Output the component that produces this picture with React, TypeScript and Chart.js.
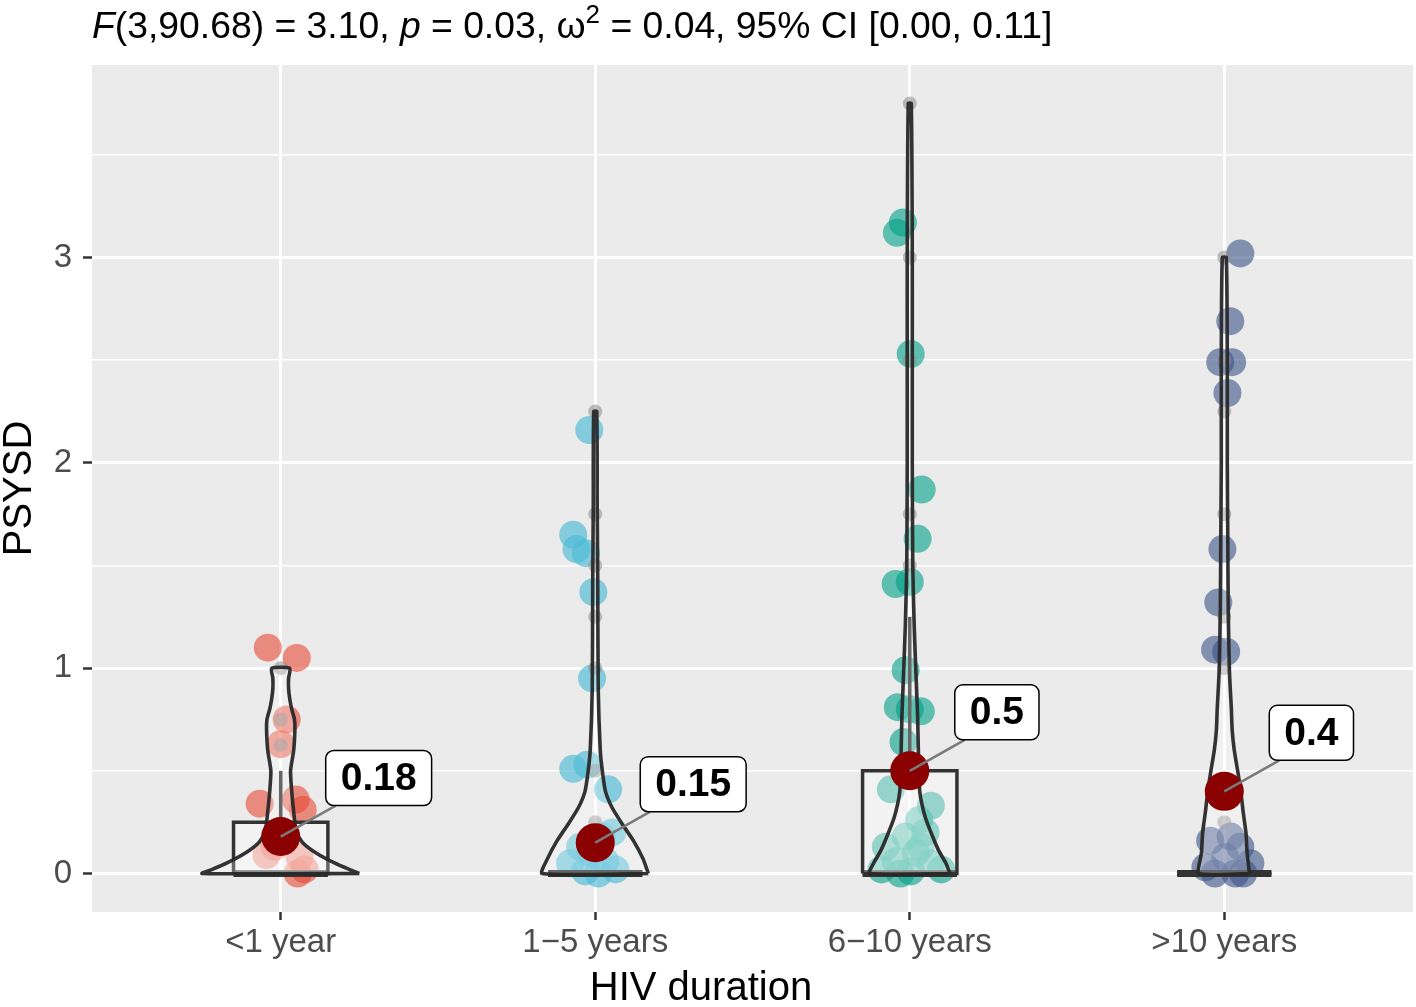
import React, { useEffect, useRef } from 'react';
import { Chart, registerables } from 'chart.js';

Chart.register(...registerables);

// ---------------- DATA ----------------
const categories = ['<1 year', '1\u22125 years', '6\u221210 years', '>10 years'];
const xAxisTitle = 'HIV duration';
const yAxisTitle = 'PSYSD';
const yTickValues = [0, 0.5, 1, 1.5, 2, 2.5, 3, 3.5];
const yTickLabels = ['0', '', '1', '', '2', '', '3', ''];

// group means (shown as dark red dots + labels)
const means = [0.18, 0.15, 0.5, 0.4];
const meanLabels = ['0.18', '0.15', '0.5', '0.4'];

// box-plot statistics
const q1 = [0, 0, 0, 0];
const medians = [0, 0, 0, 0];
const q3 = [0.25, 0, 0.5, 0];
const whiskerHigh = [0.5, 0, 1.25, 0];

// box-plot outliers
const outliers1 = [1.0, 0.75, 0.625];
const outliers2 = [2.25, 1.75, 1.5, 1.25, 1.0, 0.5, 0.25];
const outliers3 = [3.75, 3.0, 2.5, 1.75, 1.5];
const outliers4 = [3.0, 2.5, 2.25, 1.75, 1.25, 1.0, 0.25];

const values1 = [1.10, 1.05, 0.75, 0.63, 0.34, 0.36, 0.31, 0.09, 0.08, 0.02, 0.0, 0.2, 0.13];
const jitter1 = [-0.041, 0.051, 0.019, 0.0, -0.067, 0.048, 0.07, -0.045, 0.06, 0.076, 0.054, 0.0, -0.02];
const values2 = [2.16, 1.65, 1.58, 1.56, 1.37, 0.95, 0.51, 0.53, 0.41, 0.13, 0.2, 0.06, 0.01, 0.0, 0.05, 0.02, 0.1, 0.18];
const jitter2 = [-0.019, -0.07, -0.06, -0.03, -0.006, -0.01, -0.07, -0.025, 0.041, -0.048, 0.054, 0.032, -0.032, 0.01, -0.08, 0.064, -0.016, 0.02];
const values3 = [3.12, 3.17, 2.53, 1.87, 1.63, 1.41, 1.42, 0.99, 0.81, 0.79, 0.8, 0.64, 0.41, 0.33, 0.26, 0.18, 0.13, 0.13, 0.06, 0.05, 0.01, 0.02, 0.02, 0.0, 0.1, 0.2];
const jitter3 = [-0.041, -0.022, 0.003, 0.038, 0.025, -0.045, 0.0, -0.013, -0.038, 0.035, 0.0, -0.02, -0.06, 0.067, 0.03, -0.013, -0.076, 0.035, -0.045, 0.067, 0.003, -0.09, 0.1, -0.03, 0.02, 0.05];
const values4 = [3.02, 2.69, 2.49, 2.49, 2.34, 1.58, 1.32, 1.09, 1.08, 0.16, 0.13, 0.08, 0.05, 0.03, 0.0, 0.0, 0.0, 0.18];
const jitter4 = [0.051, 0.019, -0.013, 0.025, 0.01, -0.006, -0.019, -0.029, 0.006, -0.045, 0.051, 0.003, 0.083, -0.06, 0.035, 0.06, -0.03, 0.02];

// violin density profiles (relative width, 1 = widest violin)
const violinY1 = [0, 0.02, 0.05, 0.1, 0.15, 0.2, 0.3, 0.4, 0.5, 0.6, 0.7, 0.75, 0.8, 0.85, 0.9, 0.95, 1.0];
const violinD1 = [1.0, 0.87, 0.69, 0.45, 0.28, 0.2, 0.165, 0.14, 0.125, 0.165, 0.18, 0.175, 0.14, 0.115, 0.1, 0.1, 0.115];
const violinY2 = [0, 0.07, 0.16, 0.24, 0.32, 0.4, 0.5, 0.6, 0.9, 1.4, 1.8, 2.25];
const violinD2 = [0.675, 0.61, 0.485, 0.345, 0.215, 0.13, 0.09, 0.064, 0.038, 0.032, 0.025, 0.019];
const violinY3 = [0, 0.05, 0.11, 0.19, 0.27, 0.34, 0.4, 0.5, 0.76, 1.0, 1.2, 1.5, 2.0, 2.5, 3.0, 3.75];
const violinD3 = [0.51, 0.46, 0.37, 0.28, 0.2, 0.153, 0.127, 0.115, 0.1, 0.076, 0.057, 0.038, 0.032, 0.032, 0.032, 0.019];
const violinY4 = [0, 0.1, 0.2, 0.3, 0.4, 0.5, 0.6, 0.7, 0.8, 0.9, 1.0, 1.3, 1.6, 2.0, 2.5, 3.0];
const violinD4 = [0.32, 0.29, 0.275, 0.24, 0.21, 0.17, 0.127, 0.1, 0.09, 0.076, 0.064, 0.05, 0.045, 0.038, 0.038, 0.025];

// ---------------- STYLE ----------------
const FONT = '"Liberation Sans", Arial, Helvetica, sans-serif';
const groupColors = ['rgba(230,75,53,0.6)', 'rgba(77,187,213,0.65)', 'rgba(0,160,135,0.6)', 'rgba(60,84,136,0.6)'];
const LINE = '#333333';
const VIOLIN_HALF = 0.25;
const BOX_HALF = 0.15;

const valuesAll = [values1, values2, values3, values4];
const jitterAll = [jitter1, jitter2, jitter3, jitter4];
const outliersAll = [outliers1, outliers2, outliers3, outliers4];
const violinYAll = [violinY1, violinY2, violinY3, violinY4];
const violinDAll = [violinD1, violinD2, violinD3, violinD4];

function buildDatasets(): any[] {
  const ds: any[] = [];
  valuesAll.forEach((vals, g) => {
    ds.push({
      type: 'scatter',
      data: vals.map((v, k) => ({ x: g + jitterAll[g][k], y: v })),
      pointRadius: 14,
      pointBackgroundColor: groupColors[g],
      pointBorderWidth: 0,
      order: 6,
    });
  });
  ds.push({
    type: 'scatter',
    data: outliersAll.flatMap((arr, g) => arr.map((v) => ({ x: g, y: v }))),
    pointRadius: 7,
    pointBackgroundColor: 'rgba(140,140,140,0.55)',
    pointBorderWidth: 0,
    order: 5,
  });
  categories.forEach((_, g) => {
    ds.push({
      type: 'line',
      data: [
        { x: g - BOX_HALF, y: q1[g] },
        { x: g + BOX_HALF, y: q1[g] },
        { x: g + BOX_HALF, y: q3[g] },
        { x: g - BOX_HALF, y: q3[g] },
        { x: g - BOX_HALF, y: q1[g] },
      ],
      borderColor: LINE,
      borderWidth: 3.5,
      backgroundColor: 'rgba(255,255,255,0.35)',
      fill: 'shape',
      pointRadius: 0,
      tension: 0,
      order: 4,
    });
    ds.push({
      type: 'line',
      data: [
        { x: g, y: q3[g] },
        { x: g, y: whiskerHigh[g] },
      ],
      borderColor: LINE,
      borderWidth: 3.5,
      pointRadius: 0,
      fill: false,
      order: 4,
    });
    ds.push({
      type: 'line',
      data: [
        { x: g - BOX_HALF, y: medians[g] },
        { x: g + BOX_HALF, y: medians[g] },
      ],
      borderColor: LINE,
      borderWidth: 7,
      pointRadius: 0,
      fill: false,
      order: 4,
    });
  });
  categories.forEach((_, g) => {
    const ys = violinYAll[g];
    const ws = violinDAll[g];
    const right = ys.map((y, k) => ({ x: g + ws[k] * VIOLIN_HALF, y }));
    const left = ys.map((y, k) => ({ x: g - ws[k] * VIOLIN_HALF, y })).reverse();
    const pts = [...right, ...left, right[0]];
    ds.push({
      type: 'line',
      data: pts,
      borderColor: 'rgba(40,40,40,0.95)',
      borderWidth: 3.6,
      backgroundColor: 'rgba(255,255,255,0.25)',
      fill: 'shape',
      pointRadius: 0,
      tension: 0.2,
      order: 3,
    });
  });
  ds.push({
    type: 'scatter',
    data: means.map((m, g) => ({ x: g, y: m })),
    pointRadius: 19.5,
    pointBackgroundColor: '#8B0000',
    pointBorderWidth: 0,
    order: 1,
  });
  return ds;
}

const panelBg = {
  id: 'panelBg',
  beforeDraw(chart: any) {
    const { ctx, chartArea } = chart;
    ctx.save();
    ctx.fillStyle = '#EBEBEB';
    ctx.fillRect(chartArea.left, chartArea.top, chartArea.right - chartArea.left, chartArea.bottom - chartArea.top);
    ctx.restore();
  },
};

function roundRectPath(ctx: CanvasRenderingContext2D, x: number, y: number, w: number, h: number, r: number) {
  ctx.beginPath();
  ctx.moveTo(x + r, y);
  ctx.lineTo(x + w - r, y);
  ctx.arcTo(x + w, y, x + w, y + r, r);
  ctx.lineTo(x + w, y + h - r);
  ctx.arcTo(x + w, y + h, x + w - r, y + h, r);
  ctx.lineTo(x + r, y + h);
  ctx.arcTo(x, y + h, x, y + h - r, r);
  ctx.lineTo(x, y + r);
  ctx.arcTo(x, y, x + r, y, r);
  ctx.closePath();
}

const meanLabelPlugin = {
  id: 'meanLabels',
  afterDatasetsDraw(chart: any) {
    const { ctx, scales } = chart;
    const xs = scales.x;
    const ys = scales.y;
    ctx.save();
    means.forEach((m, g) => {
      const px = xs.getPixelForValue(g);
      const py = ys.getPixelForValue(m);
      ctx.font = `bold 39px ${FONT}`;
      const tw = ctx.measureText(meanLabels[g]).width;
      const bw = tw + 30;
      const bh = 55;
      const bx = px + 45;
      const by = py - 86;
      ctx.strokeStyle = '#7A7A7A';
      ctx.lineWidth = 2.5;
      ctx.beginPath();
      ctx.moveTo(px, py);
      ctx.lineTo(bx + 10, by + bh);
      ctx.stroke();
      roundRectPath(ctx, bx, by, bw, bh, 8);
      ctx.fillStyle = '#FFFFFF';
      ctx.fill();
      ctx.strokeStyle = '#000000';
      ctx.lineWidth = 1.5;
      ctx.stroke();
      ctx.fillStyle = '#000000';
      ctx.textAlign = 'center';
      ctx.textBaseline = 'middle';
      ctx.fillText(meanLabels[g], bx + bw / 2, by + bh / 2 + 1);
    });
    ctx.restore();
  },
};

const subtitleParts: { t: string; style: 'normal' | 'italic' | 'sup' }[] = [
  { t: 'F', style: 'italic' },
  { t: '(3,90.68) = 3.10, ', style: 'normal' },
  { t: 'p', style: 'italic' },
  { t: ' = 0.03, \u03C9', style: 'normal' },
  { t: '2', style: 'sup' },
  { t: ' = 0.04, 95% CI [0.00, 0.11]', style: 'normal' },
];

const textPlugin = {
  id: 'texts',
  afterDraw(chart: any) {
    const { ctx, chartArea } = chart;
    ctx.save();
    let x = chartArea.left;
    const base = 38;
    ctx.fillStyle = '#000000';
    ctx.textAlign = 'left';
    ctx.textBaseline = 'alphabetic';
    subtitleParts.forEach((p) => {
      if (p.style === 'italic') ctx.font = `italic 37.3px ${FONT}`;
      else if (p.style === 'sup') ctx.font = `26px ${FONT}`;
      else ctx.font = `37.3px ${FONT}`;
      const yy = p.style === 'sup' ? base - 15 : base;
      ctx.fillText(p.t, x, yy);
      x += ctx.measureText(p.t).width;
    });
    ctx.font = `40px ${FONT}`;
    ctx.textAlign = 'center';
    ctx.textBaseline = 'middle';
    ctx.fillText(xAxisTitle, 701, 989);
    ctx.restore();
  },
};

export default function App() {
  const ref = useRef<HTMLCanvasElement | null>(null);
  useEffect(() => {
    document.body.style.margin = '0';
    document.body.style.overflow = 'hidden';
    if (!ref.current) return;
    Chart.defaults.font.family = FONT;
    const chart = new Chart(ref.current, {
      type: 'scatter',
      data: { datasets: buildDatasets() },
      options: {
        animation: false,
        responsive: false,
        layout: { autoPadding: false, padding: { top: 65, right: 3, left: 0, bottom: 0 } },
        plugins: { legend: { display: false }, tooltip: { enabled: false } },
        scales: {
          x: {
            type: 'linear',
            min: -0.6,
            max: 3.6,
            afterBuildTicks: (s: any) => {
              s.ticks = categories.map((_, i) => ({ value: i }));
            },
            afterFit: (s: any) => {
              s.height = 95;
              s.paddingLeft = 0;
              s.paddingRight = 0;
            },
            ticks: {
              callback: (v: any) => categories[Math.round(Number(v))] ?? '',
              color: '#4D4D4D',
              font: { size: 33, lineHeight: 1.2 },
              padding: 3,
              autoSkip: false,
              maxRotation: 0,
            },
            grid: {
              color: '#FFFFFF',
              lineWidth: 3,
              tickColor: '#333333',
              tickLength: 8,
              tickWidth: 2.5,
            },
            border: { display: false },
          },
          y: {
            type: 'linear',
            min: -0.1875,
            max: 3.9375,
            afterBuildTicks: (s: any) => {
              s.ticks = yTickValues.map((v) => ({ value: v }));
            },
            afterFit: (s: any) => {
              s.width = 92;
              s.paddingTop = 0;
              s.paddingBottom = 0;
            },
            ticks: {
              callback: (v: any) => {
                const i = yTickValues.indexOf(Number(v));
                return i >= 0 ? yTickLabels[i] : '';
              },
              color: '#4D4D4D',
              font: { size: 33 },
              padding: 11,
            },
            grid: {
              color: '#FFFFFF',
              lineWidth: (c: any) => (c.tick && c.tick.value % 1 === 0 ? 3 : 1.5),
              tickColor: (c: any) => (c.tick && c.tick.value % 1 === 0 ? '#333333' : 'rgba(0,0,0,0)'),
              tickLength: 9,
              tickWidth: 2.5,
            },
            border: { display: false },
            title: {
              display: true,
              text: yAxisTitle,
              color: '#000000',
              font: { size: 40, lineHeight: 1 },
              padding: { top: 0, bottom: 0 },
            },
          },
        },
      } as any,
      plugins: [panelBg, meanLabelPlugin, textPlugin],
    });
    return () => chart.destroy();
  }, []);
  return <canvas ref={ref} width={1416} height={1007} style={{ display: 'block' }} />;
}
